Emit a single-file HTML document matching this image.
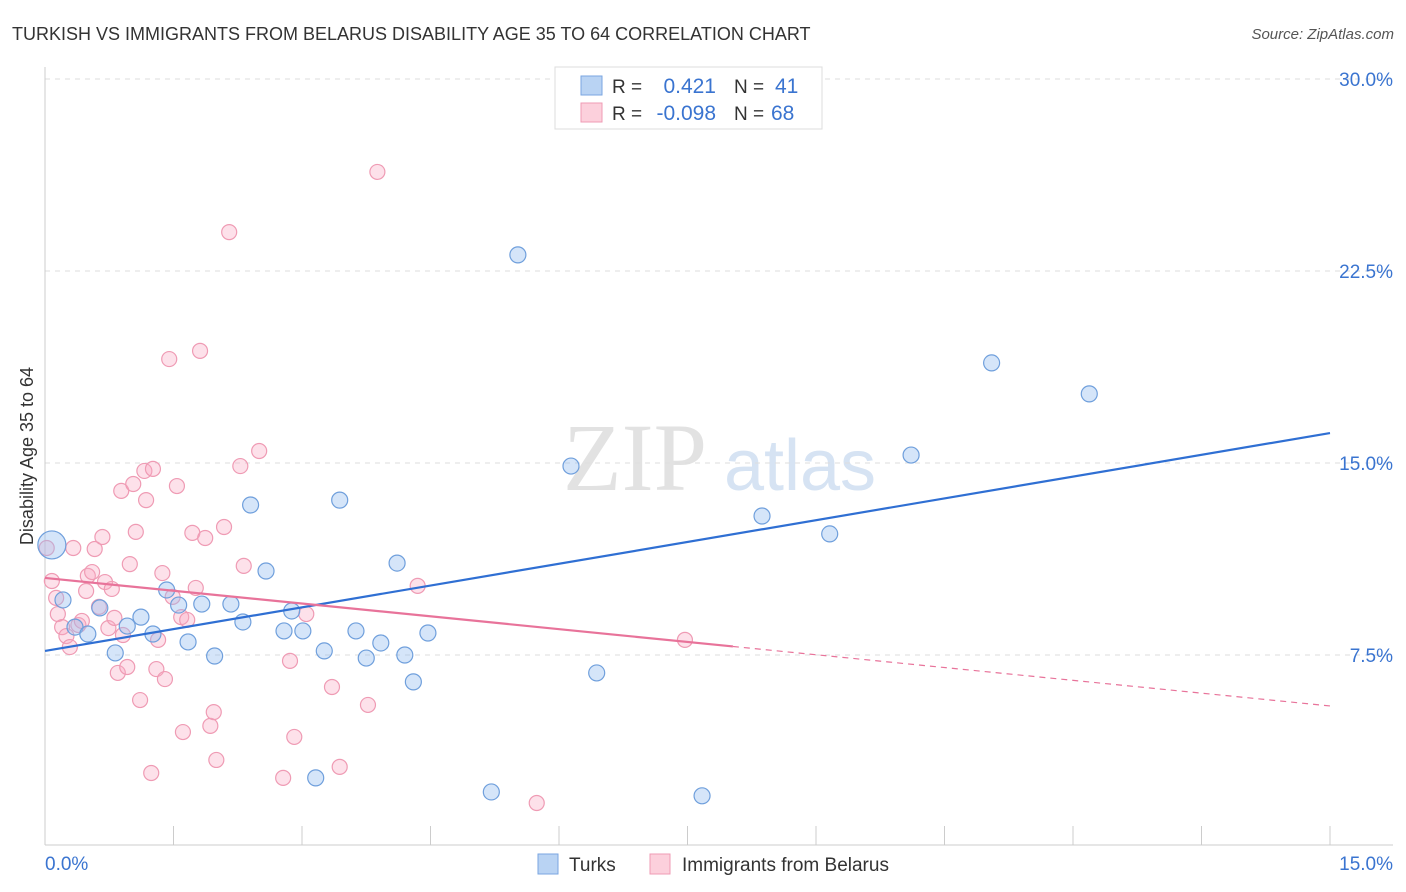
<!DOCTYPE html>
<html><head><meta charset="utf-8"><style>
body{margin:0;background:#fff;font-family:"Liberation Sans",sans-serif;}
svg{display:block}
</style></head><body>
<svg id="chart" width="1406" height="892" xmlns="http://www.w3.org/2000/svg">
<text x="12" y="40" font-size="18" fill="#333">TURKISH VS IMMIGRANTS FROM BELARUS DISABILITY AGE 35 TO 64 CORRELATION CHART</text>
<text x="1394" y="39" font-size="15" fill="#555" font-style="italic" text-anchor="end">Source: ZipAtlas.com</text>
<g>
<text x="635" y="490" font-size="96" fill="#e2e2e2" font-family="Liberation Serif,serif" text-anchor="middle">ZIP</text>
<text x="800" y="490" font-size="72" fill="#d6e3f3" text-anchor="middle">atlas</text>
</g>
<g id="grid"></g>
<g id="axes"></g>
<g id="marks"></g>
<text transform="translate(33,456) rotate(-90)" font-size="18" fill="#333" text-anchor="middle">Disability Age 35 to 64</text>
<g>
<rect x="555" y="67" width="267" height="62" fill="#fff" stroke="#ddd"/>
<rect x="581" y="76" width="21" height="19" fill="#b9d3f3" stroke="#7aa6e0"/>
<rect x="581" y="103" width="21" height="19" fill="#fcd0dc" stroke="#ef9bb4"/>
<text x="612" y="93" font-size="19" fill="#333">R =</text>
<text x="716" y="93" font-size="21" fill="#3a74d0" text-anchor="end">0.421</text>
<text x="734" y="93" font-size="19" fill="#333">N =</text>
<text x="775" y="93" font-size="21" fill="#3a74d0">41</text>
<text x="612" y="120" font-size="19" fill="#333">R =</text>
<text x="716" y="120" font-size="21" fill="#3a74d0" text-anchor="end">-0.098</text>
<text x="734" y="120" font-size="19" fill="#333">N =</text>
<text x="771" y="120" font-size="21" fill="#3a74d0">68</text>
</g>
<g>
<rect x="538" y="854" width="20" height="20" fill="#b9d3f3" stroke="#7aa6e0"/>
<text x="569" y="871" font-size="19" fill="#333">Turks</text>
<rect x="650" y="854" width="20" height="20" fill="#fcd0dc" stroke="#ef9bb4"/>
<text x="682" y="871" font-size="19" fill="#333">Immigrants from Belarus</text>
</g>
</svg>
<script>
const yTicks=[7.5,15,22.5,30];
const yTickLabels=["7.5%","15.0%","22.5%","30.0%"];
const xTickLabels=["0.0%","15.0%"];
const turksX=[0.08,0.21,0.35,0.50,0.64,0.82,0.96,1.12,1.26,1.42,1.56,1.67,1.83,1.98,2.17,2.31,2.40,2.58,2.79,2.88,3.01,3.16,3.26,3.44,3.63,3.75,3.92,4.11,4.20,4.30,4.47,5.21,5.52,6.14,6.44,7.67,8.37,9.16,10.11,11.05,12.19];
const turksY=[11.80,9.65,8.59,8.32,9.34,7.58,8.63,8.98,8.32,10.04,9.45,8.01,9.49,7.46,9.49,8.79,13.36,10.78,8.44,9.22,8.44,2.70,7.66,13.55,8.44,7.38,7.97,11.09,7.50,6.45,8.36,2.15,23.13,14.88,6.80,2.00,12.93,12.23,15.31,18.91,17.70];
const belX=[0.02,0.08,0.13,0.15,0.20,0.25,0.29,0.33,0.39,0.43,0.48,0.50,0.55,0.58,0.63,0.67,0.70,0.74,0.78,0.81,0.85,0.89,0.91,0.96,0.99,1.03,1.06,1.11,1.16,1.18,1.24,1.26,1.30,1.32,1.37,1.40,1.45,1.49,1.54,1.59,1.61,1.66,1.72,1.76,1.81,1.87,1.93,1.97,2.00,2.09,2.15,2.28,2.32,2.50,2.78,2.86,2.91,3.05,3.35,3.44,3.77,3.88,4.35,5.74,7.47];
const belY=[11.68,10.39,9.73,9.10,8.59,8.24,7.81,11.68,8.67,8.83,10.00,10.59,10.74,11.64,9.38,12.11,10.35,8.55,10.08,8.95,6.80,13.91,8.28,7.03,11.05,14.18,12.31,5.74,14.69,13.55,2.89,14.77,6.95,8.09,10.70,6.56,19.06,9.77,14.10,8.98,4.49,8.87,12.27,10.12,19.38,12.07,4.73,5.27,3.40,12.50,24.02,14.88,10.98,15.47,2.70,7.27,4.30,9.10,6.25,3.13,5.55,26.37,10.20,1.72,8.09];
const turksTrend=[7.66,16.17];
const belTrend=[10.51,5.51];
const belSolidEnd=8.03;

const NS="http://www.w3.org/2000/svg";
const X0=45,X1=1330,Y0=847,YPER=192/7.5;
const sx=v=>X0+(v/15)*(X1-X0);
const sy=v=>Y0-v*YPER;
function mk(tag,attrs,parent){const e=document.createElementNS(NS,tag);for(const k in attrs)e.setAttribute(k,attrs[k]);parent.appendChild(e);return e;}
const grid=document.getElementById('grid'),axes=document.getElementById('axes'),marks=document.getElementById('marks');
yTicks.forEach((t,i)=>{
  const l=mk('line',{x1:45,x2:1393,y1:sy(t),y2:sy(t),stroke:'#ddd','stroke-dasharray':'5,5'},grid);
  
  
  const tx=mk('text',{x:1393,y:sy(t)+7,'font-size':19,fill:'#3a74d0','text-anchor':'end'},axes);
  tx.textContent=yTickLabels[i];
  
  
});
const ya=mk('line',{x1:45,x2:45,y1:67,y2:845,stroke:'#ccc'},axes);


const xa=mk('line',{x1:45,x2:1393,y1:845,y2:845,stroke:'#ccc'},axes);


for(let i=0;i<=10;i++){
  const t=mk('line',{x1:sx(i*1.5),x2:sx(i*1.5),y1:826,y2:845,stroke:'#ccc'},axes);
  
  
}
[[0,'start',45],[1,'end',1393]].forEach(([i,a,x])=>{
  const t=mk('text',{x:x,y:870,'font-size':19,fill:'#3a74d0','text-anchor':a},axes);
  t.textContent=xTickLabels[i];
  
  
});
belX.forEach((v,i)=>{
  const c=mk('circle',{cx:sx(v),cy:sy(belY[i]),r:7.5,fill:'rgba(248,170,195,0.35)',stroke:'#ef9bb4','stroke-width':1.2},marks);
  
  
});
turksX.forEach((v,i)=>{
  const c=mk('circle',{cx:sx(v),cy:sy(turksY[i]),r:i===0?14:8,fill:'rgba(150,190,240,0.4)',stroke:'#6f9fdc','stroke-width':1.2},marks);
  
  
});
const bt=mk('line',{x1:sx(0),y1:sy(turksTrend[0]),x2:sx(15),y2:sy(turksTrend[1]),stroke:'#2f6fd3','stroke-width':2.2},marks);


const pAt=x=>belTrend[0]+(belTrend[1]-belTrend[0])*x/15;
const ps=mk('line',{x1:sx(0),y1:sy(belTrend[0]),x2:sx(belSolidEnd),y2:sy(pAt(belSolidEnd)),stroke:'#e8739a','stroke-width':2.2},marks);


const pd=mk('line',{x1:sx(belSolidEnd),y1:sy(pAt(belSolidEnd)),x2:sx(15),y2:sy(belTrend[1]),stroke:'#e8739a','stroke-width':1.2,'stroke-dasharray':'6,5'},marks);


</script>
</body></html>
